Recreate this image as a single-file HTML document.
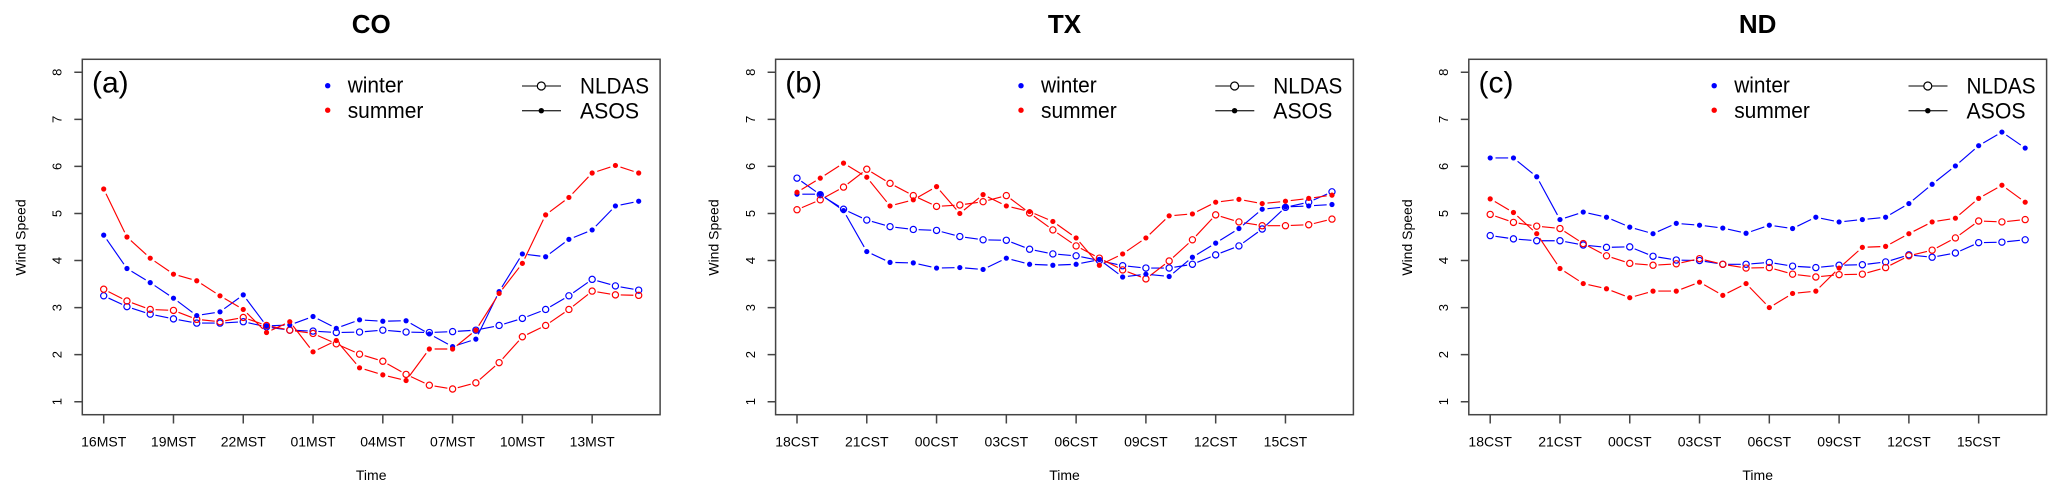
<!DOCTYPE html>
<html><head><meta charset="utf-8">
<style>
html,body{margin:0;padding:0;background:#fff;}
svg{display:block;}
text{font-family:"Liberation Sans",Arial,sans-serif;fill:#000;}
</style></head>
<body>
<svg id="s" width="2067" height="495" viewBox="0 0 2067 495" xmlns="http://www.w3.org/2000/svg">
<rect width="2067" height="495" fill="#fff"/>

<!-- Panel 1 -->
<g transform="translate(0,0)">
<text x="371.2" y="33" font-size="26" font-weight="bold" text-anchor="middle">CO</text>
<rect x="82.3" y="59.3" width="577.8" height="355.4" fill="none" stroke="#444" stroke-width="1.5"/>
<path d="M74.3 401.7H82.3M74.3 354.64H82.3M74.3 307.58H82.3M74.3 260.52H82.3M74.3 213.46H82.3M74.3 166.4H82.3M74.3 119.34H82.3M74.3 72.28H82.3M103.7 414.7V423.5M173.48 414.7V423.5M243.26 414.7V423.5M313.04 414.7V423.5M382.82 414.7V423.5M452.6 414.7V423.5M522.38 414.7V423.5M592.16 414.7V423.5" stroke="#444" stroke-width="1.5" fill="none"/>
<g font-size="13" text-anchor="middle">
<text transform="translate(61.5,401.7) rotate(-90)">1</text>
<text transform="translate(61.5,354.64) rotate(-90)">2</text>
<text transform="translate(61.5,307.58) rotate(-90)">3</text>
<text transform="translate(61.5,260.52) rotate(-90)">4</text>
<text transform="translate(61.5,213.46) rotate(-90)">5</text>
<text transform="translate(61.5,166.4) rotate(-90)">6</text>
<text transform="translate(61.5,119.34) rotate(-90)">7</text>
<text transform="translate(61.5,72.28) rotate(-90)">8</text>
</g>
<g font-size="14" text-anchor="middle">
<text x="103.7" y="446.7">16MST</text>
<text x="173.48" y="446.7">19MST</text>
<text x="243.26" y="446.7">22MST</text>
<text x="313.04" y="446.7">01MST</text>
<text x="382.82" y="446.7">04MST</text>
<text x="452.6" y="446.7">07MST</text>
<text x="522.38" y="446.7">10MST</text>
<text x="592.16" y="446.7">13MST</text>
<text x="371.2" y="480">Time</text>
<text transform="translate(25.3,237.5) rotate(-90)">Wind Speed</text>
</g>
<text x="92" y="92.3" font-size="30">(a)</text>
<circle cx="327.7" cy="85.7" r="2.7" fill="#00f"/>
<circle cx="327.7" cy="110.2" r="2.7" fill="#f00"/>
<text x="347.7" y="92.5" font-size="22" textLength="55.7" lengthAdjust="spacingAndGlyphs">winter</text>
<text x="347.7" y="118" font-size="22" textLength="75.7" lengthAdjust="spacingAndGlyphs">summer</text>
<line x1="522" y1="86" x2="561" y2="86" stroke="#333" stroke-width="1.3"/>
<circle cx="541.3" cy="86" r="4" fill="#fff" stroke="#000" stroke-width="1.2"/>
<line x1="522" y1="110.7" x2="561" y2="110.7" stroke="#333" stroke-width="1.3"/>
<circle cx="541.3" cy="110.7" r="2.7" fill="#000"/>
<text x="580" y="93.3" font-size="22" textLength="69" lengthAdjust="spacingAndGlyphs">NLDAS</text>
<text x="580" y="118.5" font-size="22" textLength="59" lengthAdjust="spacingAndGlyphs">ASOS</text>
</g>

<!-- Panel 2 -->
<g transform="translate(693.3,0)">
<text x="371.2" y="33" font-size="26" font-weight="bold" text-anchor="middle">TX</text>
<rect x="82.3" y="59.3" width="577.8" height="355.4" fill="none" stroke="#444" stroke-width="1.5"/>
<path d="M74.3 401.7H82.3M74.3 354.64H82.3M74.3 307.58H82.3M74.3 260.52H82.3M74.3 213.46H82.3M74.3 166.4H82.3M74.3 119.34H82.3M74.3 72.28H82.3M103.7 414.7V423.5M173.48 414.7V423.5M243.26 414.7V423.5M313.04 414.7V423.5M382.82 414.7V423.5M452.6 414.7V423.5M522.38 414.7V423.5M592.16 414.7V423.5" stroke="#444" stroke-width="1.5" fill="none"/>
<g font-size="13" text-anchor="middle">
<text transform="translate(61.5,401.7) rotate(-90)">1</text>
<text transform="translate(61.5,354.64) rotate(-90)">2</text>
<text transform="translate(61.5,307.58) rotate(-90)">3</text>
<text transform="translate(61.5,260.52) rotate(-90)">4</text>
<text transform="translate(61.5,213.46) rotate(-90)">5</text>
<text transform="translate(61.5,166.4) rotate(-90)">6</text>
<text transform="translate(61.5,119.34) rotate(-90)">7</text>
<text transform="translate(61.5,72.28) rotate(-90)">8</text>
</g>
<g font-size="14" text-anchor="middle">
<text x="103.7" y="446.7">18CST</text>
<text x="173.48" y="446.7">21CST</text>
<text x="243.26" y="446.7">00CST</text>
<text x="313.04" y="446.7">03CST</text>
<text x="382.82" y="446.7">06CST</text>
<text x="452.6" y="446.7">09CST</text>
<text x="522.38" y="446.7">12CST</text>
<text x="592.16" y="446.7">15CST</text>
<text x="371.2" y="480">Time</text>
<text transform="translate(25.3,237.5) rotate(-90)">Wind Speed</text>
</g>
<text x="92" y="92.3" font-size="30">(b)</text>
<circle cx="327.7" cy="85.7" r="2.7" fill="#00f"/>
<circle cx="327.7" cy="110.2" r="2.7" fill="#f00"/>
<text x="347.7" y="92.5" font-size="22" textLength="55.7" lengthAdjust="spacingAndGlyphs">winter</text>
<text x="347.7" y="118" font-size="22" textLength="75.7" lengthAdjust="spacingAndGlyphs">summer</text>
<line x1="522" y1="86" x2="561" y2="86" stroke="#333" stroke-width="1.3"/>
<circle cx="541.3" cy="86" r="4" fill="#fff" stroke="#000" stroke-width="1.2"/>
<line x1="522" y1="110.7" x2="561" y2="110.7" stroke="#333" stroke-width="1.3"/>
<circle cx="541.3" cy="110.7" r="2.7" fill="#000"/>
<text x="580" y="93.3" font-size="22" textLength="69" lengthAdjust="spacingAndGlyphs">NLDAS</text>
<text x="580" y="118.5" font-size="22" textLength="59" lengthAdjust="spacingAndGlyphs">ASOS</text>
</g>

<!-- Panel 3 -->
<g transform="translate(1386.5,0)">
<text x="371.2" y="33" font-size="26" font-weight="bold" text-anchor="middle">ND</text>
<rect x="82.3" y="59.3" width="577.8" height="355.4" fill="none" stroke="#444" stroke-width="1.5"/>
<path d="M74.3 401.7H82.3M74.3 354.64H82.3M74.3 307.58H82.3M74.3 260.52H82.3M74.3 213.46H82.3M74.3 166.4H82.3M74.3 119.34H82.3M74.3 72.28H82.3M103.7 414.7V423.5M173.48 414.7V423.5M243.26 414.7V423.5M313.04 414.7V423.5M382.82 414.7V423.5M452.6 414.7V423.5M522.38 414.7V423.5M592.16 414.7V423.5" stroke="#444" stroke-width="1.5" fill="none"/>
<g font-size="13" text-anchor="middle">
<text transform="translate(61.5,401.7) rotate(-90)">1</text>
<text transform="translate(61.5,354.64) rotate(-90)">2</text>
<text transform="translate(61.5,307.58) rotate(-90)">3</text>
<text transform="translate(61.5,260.52) rotate(-90)">4</text>
<text transform="translate(61.5,213.46) rotate(-90)">5</text>
<text transform="translate(61.5,166.4) rotate(-90)">6</text>
<text transform="translate(61.5,119.34) rotate(-90)">7</text>
<text transform="translate(61.5,72.28) rotate(-90)">8</text>
</g>
<g font-size="14" text-anchor="middle">
<text x="103.7" y="446.7">18CST</text>
<text x="173.48" y="446.7">21CST</text>
<text x="243.26" y="446.7">00CST</text>
<text x="313.04" y="446.7">03CST</text>
<text x="382.82" y="446.7">06CST</text>
<text x="452.6" y="446.7">09CST</text>
<text x="522.38" y="446.7">12CST</text>
<text x="592.16" y="446.7">15CST</text>
<text x="371.2" y="480">Time</text>
<text transform="translate(25.3,237.5) rotate(-90)">Wind Speed</text>
</g>
<text x="92" y="92.3" font-size="30">(c)</text>
<circle cx="327.7" cy="85.7" r="2.7" fill="#00f"/>
<circle cx="327.7" cy="110.2" r="2.7" fill="#f00"/>
<text x="347.7" y="92.5" font-size="22" textLength="55.7" lengthAdjust="spacingAndGlyphs">winter</text>
<text x="347.7" y="118" font-size="22" textLength="75.7" lengthAdjust="spacingAndGlyphs">summer</text>
<line x1="522" y1="86" x2="561" y2="86" stroke="#333" stroke-width="1.3"/>
<circle cx="541.3" cy="86" r="4" fill="#fff" stroke="#000" stroke-width="1.2"/>
<line x1="522" y1="110.7" x2="561" y2="110.7" stroke="#333" stroke-width="1.3"/>
<circle cx="541.3" cy="110.7" r="2.7" fill="#000"/>
<text x="580" y="93.3" font-size="22" textLength="69" lengthAdjust="spacingAndGlyphs">NLDAS</text>
<text x="580" y="118.5" font-size="22" textLength="59" lengthAdjust="spacingAndGlyphs">ASOS</text>
</g>

<g id="data"></g>
</svg>
<script>
(function(){
var NS='http://www.w3.org/2000/svg';
var g=document.getElementById('data');
var B='#0000ff',R='#ff0000';
var panels=[
 {dx:0,s:[
  [[3.25,3.02,2.86,2.76,2.67,2.67,2.70,2.59,2.52,2.50,2.47,2.48,2.52,2.48,2.47,2.49,2.52,2.62,2.77,2.96,3.25,3.60,3.46,3.37],B,0],
  [[3.39,3.14,2.96,2.94,2.75,2.70,2.79,2.62,2.52,2.45,2.23,2.01,1.86,1.58,1.35,1.27,1.40,1.83,2.38,2.62,2.96,3.35,3.27,3.26],R,0],
  [[4.54,3.83,3.53,3.20,2.83,2.91,3.27,2.61,2.63,2.81,2.56,2.74,2.71,2.72,2.44,2.17,2.33,3.34,4.14,4.08,4.45,4.65,5.16,5.26],B,1],
  [[5.52,4.50,4.05,3.71,3.57,3.25,2.96,2.47,2.70,2.06,2.30,1.72,1.57,1.45,2.12,2.12,2.52,3.30,3.94,4.97,5.34,5.86,6.02,5.86],R,1]
 ]},
 {dx:693.3,s:[
  [[5.75,5.40,5.09,4.86,4.72,4.66,4.64,4.51,4.44,4.43,4.24,4.14,4.10,4.00,3.89,3.84,3.84,3.92,4.12,4.31,4.67,5.13,5.24,5.46],B,0],
  [[5.08,5.29,5.56,5.94,5.64,5.38,5.15,5.18,5.25,5.38,5.01,4.65,4.31,4.05,3.80,3.61,3.99,4.44,4.97,4.82,4.74,4.74,4.76,4.88],R,0],
  [[5.41,5.41,5.06,4.19,3.96,3.95,3.84,3.85,3.81,4.05,3.92,3.90,3.92,4.02,3.65,3.71,3.66,4.07,4.37,4.68,5.09,5.14,5.16,5.19],B,1],
  [[5.45,5.75,6.07,5.77,5.16,5.29,5.57,5.00,5.40,5.16,5.04,4.83,4.48,3.90,4.14,4.48,4.95,4.99,5.24,5.30,5.21,5.26,5.32,5.39],R,1]
 ]},
 {dx:1386.5,s:[
  [[4.53,4.46,4.42,4.42,4.33,4.28,4.29,4.09,4.01,4.00,3.92,3.92,3.96,3.88,3.85,3.90,3.91,3.97,4.12,4.07,4.16,4.38,4.39,4.44],B,0],
  [[4.98,4.81,4.73,4.68,4.36,4.10,3.94,3.90,3.93,4.04,3.92,3.84,3.85,3.71,3.65,3.70,3.71,3.85,4.10,4.22,4.48,4.84,4.82,4.87],R,0],
  [[6.18,6.18,5.78,4.87,5.03,4.92,4.71,4.57,4.79,4.75,4.69,4.58,4.75,4.68,4.92,4.82,4.87,4.92,5.21,5.62,6.01,6.44,6.73,6.39],B,1],
  [[5.31,5.02,4.57,3.83,3.51,3.40,3.21,3.35,3.35,3.54,3.26,3.51,3.00,3.30,3.35,3.84,4.28,4.30,4.57,4.82,4.90,5.32,5.60,5.24],R,1]
 ]}
];
var GAP=5.3;
function X(i){return 103.7+i*23.26;}
function Y(v){return 401.7-(v-1)*47.06;}
panels.forEach(function(p){
 p.s.forEach(function(se){
  var data=se[0],col=se[1],filled=se[2];
  var pts=data.map(function(v,i){return [X(i)+p.dx,Y(v)];});
  var d='';
  for(var k=0;k<pts.length-1;k++){
   var x1=pts[k][0],y1=pts[k][1],x2=pts[k+1][0],y2=pts[k+1][1];
   var L=Math.hypot(x2-x1,y2-y1);
   if(L>2*GAP){
    var ux=(x2-x1)/L,uy=(y2-y1)/L;
    d+='M'+(x1+ux*GAP).toFixed(2)+' '+(y1+uy*GAP).toFixed(2)+'L'+(x2-ux*GAP).toFixed(2)+' '+(y2-uy*GAP).toFixed(2);
   }
  }
  var path=document.createElementNS(NS,'path');
  path.setAttribute('d',d);
  path.setAttribute('stroke',col);
  path.setAttribute('stroke-width','1.15');
  path.setAttribute('fill','none');
  g.appendChild(path);
  pts.forEach(function(pt){
   var c=document.createElementNS(NS,'circle');
   c.setAttribute('cx',pt[0].toFixed(2));
   c.setAttribute('cy',pt[1].toFixed(2));
   if(filled){
    c.setAttribute('r','2.6');
    c.setAttribute('fill',col);
   }else{
    c.setAttribute('r','3.1');
    c.setAttribute('fill','none');
    c.setAttribute('stroke',col);
    c.setAttribute('stroke-width','1.2');
   }
   g.appendChild(c);
  });
 });
});
})();
</script>
</body></html>
